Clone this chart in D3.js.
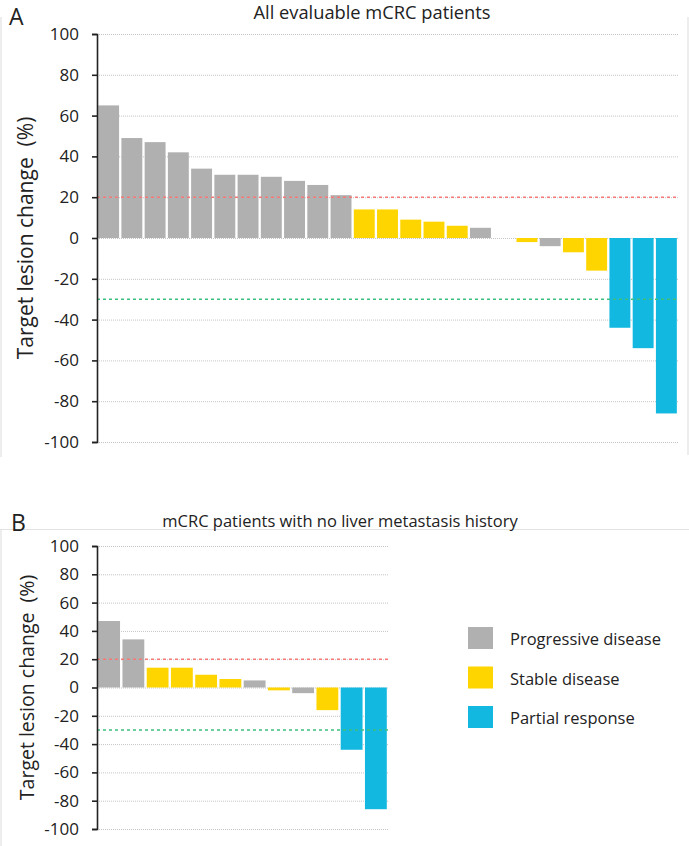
<!DOCTYPE html>
<html><head><meta charset="utf-8">
<script src="https://cdn.jsdelivr.net/npm/d3@7"></script>
<style>body{margin:0;background:#fff}svg{display:block}text{font-family:"Open Sans",sans-serif;fill:#222}</style>
</head><body><svg id="c" width="689" height="846"></svg>
<script>
const valuesA = [65,49,47,42,34,31,31,30,28,26,21,14,14,9,8,6,5,0,-2,-4,-7,-16,-44,-54,-86];
const statusA = ["PD","PD","PD","PD","PD","PD","PD","PD","PD","PD","PD","SD","SD","SD","SD","SD","PD","SD","SD","PD","SD","SD","PR","PR","PR"];
const valuesB = [47,34,14,14,9,6,5,-2,-4,-16,-44,-86];
const statusB = ["PD","PD","SD","SD","SD","SD","PD","SD","PD","SD","PR","PR"];
const yTicks = [100,80,60,40,20,0,-20,-40,-60,-80,-100];
const legendKeys = ["PD","SD","PR"];
const legendLabels = ["Progressive disease","Stable disease","Partial response"];
const thresholds = [20,-30];

const color = d3.scaleOrdinal().domain(legendKeys).range(["#b0b0b0","#ffd500","#12b8e0"]);
const svg = d3.select("#c");

function panel(cfg){
  const g = svg.append("g");
  const x = d3.scaleBand().domain(d3.range(cfg.values.length)).range([cfg.x0,cfg.x1]).paddingInner(0.1).paddingOuter(0.05);
  const y = d3.scaleLinear().domain([-100,100]).range([cfg.yb,cfg.yt]);
  g.append("path").attr("d",cfg.frame).attr("fill","none").attr("stroke","#e2e2e2").attr("stroke-width",1.2);
  g.selectAll(".grid").data(yTicks).join("line")
    .attr("x1",cfg.x0).attr("x2",cfg.x1).attr("y1",d=>y(d)+0.5).attr("y2",d=>y(d)+0.5)
    .attr("stroke","#c4c4c4").attr("stroke-width",1).attr("stroke-dasharray","1,1");
  g.selectAll(".bar").data(cfg.values).join("rect")
    .attr("x",(d,i)=>x(i)).attr("width",x.bandwidth())
    .attr("y",d=>y(Math.max(0,d))).attr("height",d=>Math.abs(y(d)-y(0)))
    .attr("fill",(d,i)=>color(cfg.status[i]));
  g.selectAll(".thr").data(thresholds).join("line")
    .attr("x1",cfg.x0).attr("x2",cfg.x1).attr("y1",d=>y(d)).attr("y2",d=>y(d))
    .attr("stroke",(d)=>d>0?"#f47a78":"#3fbf7f").attr("stroke-width",1.5).attr("stroke-dasharray","3,3");
  const ax = g.append("g").attr("transform",`translate(${cfg.x0},0)`)
    .call(d3.axisLeft(y).tickValues(yTicks).tickFormat(d=>String(d)).tickSize(5).tickSizeOuter(5).tickPadding(13));
  ax.select(".domain").attr("stroke","#222").attr("stroke-width",1.6);
  ax.selectAll(".tick line").attr("stroke","#222").attr("stroke-width",1.6);
  ax.selectAll("text").style("font-size","17px").style("font-family","'Open Sans',sans-serif").attr("fill","#222");
  g.append("text").attr("transform",`translate(${cfg.tx},${(cfg.yt+cfg.yb)/2}) rotate(-90)`)
    .attr("text-anchor","middle").attr("xml:space","preserve").style("white-space","pre")
    .style("font-size",cfg.tfs+"px").text("Target lesion change  (%)");
  g.append("text").attr("x",cfg.titleX).attr("y",cfg.titleY).attr("text-anchor","middle")
    .style("font-size",cfg.titleFs+"px").text(cfg.title);
  g.append("text").attr("x",cfg.letterX).attr("y",cfg.letterY).style("font-size","23px").text(cfg.letter);
}

panel({values:valuesA,status:statusA,x0:97,x1:678,yt:34,yb:442,tx:33,tfs:21,
  title:"All evaluable mCRC patients",titleFs:18.3,titleX:372,titleY:19,letter:"A",letterX:9,letterY:25,
  frame:"M1,17 V457 M688,17 V455"});
panel({values:valuesB,status:statusB,x0:97,x1:388,yt:546,yb:829,tx:34,tfs:19.5,
  title:"mCRC patients with no liver metastasis history",titleFs:16.5,titleX:340,titleY:527,letter:"B",letterX:11,letterY:531,
  frame:"M0,529.5 H689 M1,529 V846"});

const lg = svg.append("g").attr("transform","translate(468,627)");
const items = lg.selectAll("g").data(legendKeys).join("g").attr("transform",(d,i)=>`translate(0,${i*39.5})`);
items.append("rect").attr("width",25).attr("height",22).attr("fill",d=>color(d));
items.append("text").attr("x",42).attr("y",18).style("font-size","16.5px").text((d,i)=>legendLabels[i]);
</script></body></html>
